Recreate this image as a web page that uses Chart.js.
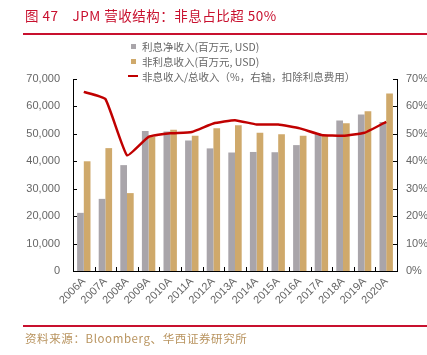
<!DOCTYPE html>
<html><head><meta charset="utf-8">
<script src="https://cdn.jsdelivr.net/npm/chart.js@4/dist/chart.umd.min.js"></script>
<style>
html,body{margin:0;padding:0;background:#fff;}
#wrap{position:relative;width:427px;height:355px;overflow:hidden;font-family:"Liberation Sans","Noto Sans CJK SC",sans-serif;}
#title{position:absolute;left:25px;top:5px;font-size:13.5px;color:#C8102E;font-family:"Noto Sans CJK SC",sans-serif;white-space:nowrap;letter-spacing:0.5px;}
#rule1{position:absolute;left:23px;top:33px;width:404px;height:2px;background:#C8102E;}
#rule2{position:absolute;left:23px;top:325px;width:404px;height:2px;background:#C8102E;}
#src{position:absolute;left:25px;top:330px;font-size:11.5px;color:#B8935E;font-family:"Noto Sans CJK SC",sans-serif;white-space:nowrap;letter-spacing:0.6px;}
.lg{position:absolute;left:142px;font-size:10.5px;color:#666;white-space:nowrap;font-family:"Noto Sans CJK SC","Liberation Sans",sans-serif;line-height:13px;}
.mk{position:absolute;}
canvas{position:absolute;left:0;top:0;}
</style></head>
<body><div id="wrap">
<canvas id="c" width="427" height="355"></canvas>
<div id="title">图 47　JPM 营收结构：非息占比超 50%</div>
<div id="rule1"></div>
<div class="mk" style="left:131px;top:44px;width:5px;height:5px;background:#A9A5AA"></div>
<div class="lg" style="top:40px">利息净收入(百万元, USD)</div>
<div class="mk" style="left:131px;top:59px;width:5px;height:5px;background:#CFA96B"></div>
<div class="lg" style="top:55px">非利息收入(百万元, USD)</div>
<div class="mk" style="left:128px;top:75px;width:10px;height:2px;background:#C00000"></div>
<div class="lg" style="top:70px">非息收入/总收入（%，右轴，扣除利息费用）</div>
<div id="rule2"></div>
<div id="src">资料来源：Bloomberg、华西证券研究所</div>
</div>
<script>
const categories = ["2006A","2007A","2008A","2009A","2010A","2011A","2012A","2013A","2014A","2015A","2016A","2017A","2018A","2019A","2020A"];
const netInterestIncome = [21200,26300,38600,51000,50900,47600,44700,43200,43400,43300,45900,50000,54900,57100,54300];
const nonInterestIncome = [40000,44800,28400,48900,51500,49300,52000,53100,50400,49900,49300,49500,53900,58200,64700];
const nonInterestShare = [65.3,62.7,42.2,48.9,50.2,50.7,53.8,55.0,53.4,53.4,52.0,49.6,49.3,50.4,54.4];
const leftTicks = [0,10000,20000,30000,40000,50000,60000,70000];
const rightTicks = [0,10,20,30,40,50,60,70];

const innerTicks = {
  id:'innerTicks',
  afterDraw(chart){
    const ctx = chart.ctx, a = chart.chartArea;
    const x = chart.scales.x, yl = chart.scales.y, yr = chart.scales.y1;
    ctx.save();
    ctx.strokeStyle = '#000'; ctx.lineWidth = 1;
    ctx.beginPath();
    yl.ticks.forEach(t=>{const p=Math.round(yl.getPixelForValue(t.value))+0.5; ctx.moveTo(a.left,p); ctx.lineTo(a.left+4,p);});
    yr.ticks.forEach(t=>{const p=Math.round(yr.getPixelForValue(t.value))+0.5; ctx.moveTo(a.right,p); ctx.lineTo(a.right-4,p);});
    const n = categories.length;
    for(let i=0;i<=n;i++){
      let p;
      if(i===0) p=a.left; else if(i===n) p=a.right;
      else p=(x.getPixelForValue(i-1)+x.getPixelForValue(i))/2;
      p=Math.round(p)+0.5;
      ctx.moveTo(p,a.bottom); ctx.lineTo(p,a.bottom-4);
    }
    ctx.stroke();
    ctx.restore();
  }
};

new Chart(document.getElementById('c'), {
  type:'bar',
  data:{
    labels:categories,
    datasets:[
      {type:'line', label:'非息收入/总收入（%，右轴，扣除利息费用）', data:nonInterestShare, yAxisID:'y1', borderColor:'#C00000', borderWidth:2.5, pointRadius:0, tension:0.12, fill:false, order:0},
      {label:'利息净收入(百万元, USD)', data:netInterestIncome, backgroundColor:'#A9A5AA', yAxisID:'y', categoryPercentage:0.62, barPercentage:1.0, order:1},
      {label:'非利息收入(百万元, USD)', data:nonInterestIncome, backgroundColor:'#CFA96B', yAxisID:'y', categoryPercentage:0.62, barPercentage:1.0, order:1}
    ]
  },
  options:{
    responsive:false, animation:false,
    layout:{padding:{left:0,right:0,top:79,bottom:0}},
    plugins:{legend:{display:false}, tooltip:{enabled:false}},
    scales:{
      x:{
        grid:{display:false, drawTicks:false},
        border:{display:true,color:'#000',width:1},
        ticks:{color:'#666',font:{family:'Liberation Sans',size:11},minRotation:45,maxRotation:45,padding:4,autoSkip:false},
        afterFit(s){s.height=84;}
      },
      y:{
        position:'left', min:0, max:70000,
        afterBuildTicks(s){s.ticks=leftTicks.map(v=>({value:v}));},
        grid:{display:false, drawTicks:false},
        border:{display:true,color:'#000',width:1},
        ticks:{color:'#666',font:{family:'Liberation Sans',size:11},padding:13,callback:v=>v.toLocaleString('en-US')},
        afterFit(s){s.width=73;}
      },
      y1:{
        position:'right', min:0, max:70,
        afterBuildTicks(s){s.ticks=rightTicks.map(v=>({value:v}));},
        grid:{display:false, drawTicks:false},
        border:{display:true,color:'#000',width:1},
        ticks:{color:'#666',font:{family:'Liberation Sans',size:11},padding:9,callback:v=>v+'%'},
        afterFit(s){s.width=30;}
      }
    }
  },
  plugins:[innerTicks]
});
</script>
</body></html>
